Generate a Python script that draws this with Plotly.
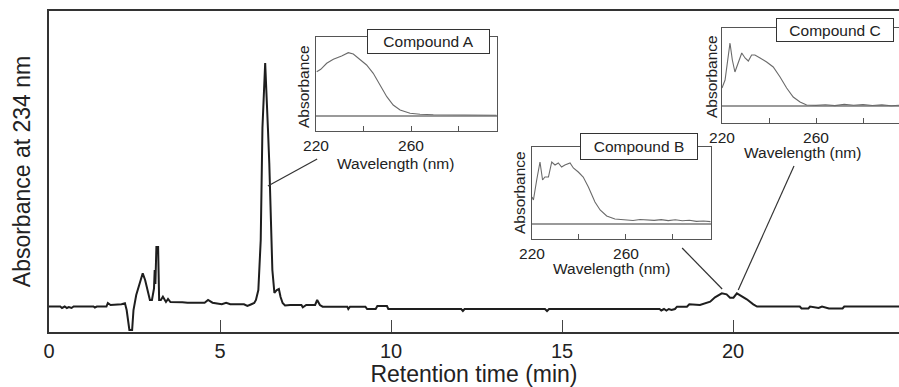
import plotly.graph_objects as go

# ---- main chromatogram (retention time in min, absorbance at 234 nm, arbitrary units)
rt_min = [0.00, 0.33, 0.38, 0.46, 0.52, 0.58, 0.66, 0.72, 1.30, 1.34, 1.40, 1.68, 1.72, 1.80,
          2.12, 2.22, 2.27, 2.32, 2.35, 2.43, 2.47, 2.55, 2.64, 2.74, 2.81, 2.89, 2.95, 3.01,
          3.07, 3.09, 3.11, 3.14, 3.19, 3.22, 3.27, 3.33, 3.42, 3.48, 3.55, 3.90, 4.05, 4.55,
          4.65, 4.78, 5.05, 5.18, 5.30, 5.70, 5.80, 5.90, 6.00, 6.05, 6.12, 6.19, 6.24, 6.32,
          6.37, 6.40, 6.44, 6.49, 6.53, 6.59, 6.66, 6.72, 6.77, 6.83, 6.90, 7.05, 7.38, 7.42,
          7.52, 7.78, 7.84, 7.92, 8.00, 8.72, 8.75, 8.80, 9.25, 9.30, 9.55, 9.60, 9.88, 9.92,
          12.05, 12.10, 12.15, 14.50, 14.56, 14.62, 17.85, 17.90, 17.98, 18.05, 18.12, 18.20,
          18.30, 18.36, 18.65, 18.72, 18.95, 19.03, 19.33, 19.47, 19.67, 19.81, 19.91, 20.01,
          20.11, 20.20, 20.40, 20.59, 20.70, 21.95, 22.00, 22.20, 22.25, 22.50, 22.60, 22.80,
          23.20, 23.25, 24.85]
abs_234 = [25.5, 25.5, 24.0, 25.5, 24.0, 25.0, 24.0, 25.5, 25.5, 24.5, 25.5, 25.5, 29.0, 27.0,
           27.7, 28.7, 22.0, 8.0, 2.0, 2.0, 22.0, 37.0, 47.0, 58.7, 52.0, 38.7, 32.0, 32.0,
           43.7, 62.0, 48.0, 85.0, 85.0, 32.0, 32.0, 35.3, 30.0, 33.0, 30.0, 29.7, 29.3, 29.3,
           32.0, 29.3, 27.7, 29.3, 27.7, 27.7, 26.0, 27.5, 29.0, 32.0, 42.0, 92.0, 204.0, 269.0,
           234.0, 204.0, 169.0, 110.0, 62.0, 39.0, 42.0, 43.0, 35.0, 29.0, 26.5, 27.0, 27.0, 24.7,
           27.0, 27.0, 32.0, 27.0, 25.3, 25.3, 23.0, 25.3, 25.3, 23.0, 23.0, 26.0, 26.0, 23.0,
           23.0, 21.0, 23.0, 23.0, 21.0, 23.0, 23.0, 21.5, 23.0, 21.5, 23.0, 22.0,
           23.0, 25.3, 25.3, 27.7, 27.7, 27.0, 30.3, 34.7, 38.7, 37.7, 34.3, 34.3,
           38.7, 37.0, 32.7, 27.7, 25.5, 25.5, 23.5, 23.5, 25.5, 24.0, 25.5, 23.5,
           23.5, 25.5, 25.5]
time_ticks = [0, 5, 10, 15, 20]

# ---- UV spectra of the three compounds (wavelength in nm, relative absorbance)
wl_a = [220.3, 222.0, 224.5, 227.3, 230.8, 233.6, 235.7, 238.5, 241.3, 244.1, 247.0, 249.8,
        252.5, 255.4, 259.6, 263.8, 269.4, 296.0]
abs_a = [44.3, 46.7, 52.7, 56.7, 60.0, 63.3, 62.0, 56.7, 51.0, 42.7, 31.0, 19.3,
         11.0, 6.0, 2.7, 1.7, 1.3, 0.8]

wl_b = [220.0, 220.6, 222.0, 223.4, 224.5, 225.5, 227.0, 228.4, 229.8, 231.2, 232.6, 234.0,
        236.2, 237.6, 239.7, 241.8, 244.0, 246.8, 249.0, 251.8, 255.3, 260.3, 263.0, 266.0,
        269.0, 272.0, 275.0, 278.0, 281.0, 284.0, 287.0, 290.0, 293.0, 296.0]
abs_b = [27.0, 24.0, 44.0, 62.0, 44.0, 47.0, 47.0, 62.0, 59.0, 61.0, 57.0, 59.0,
         61.0, 56.0, 52.0, 47.0, 37.0, 22.0, 14.0, 8.0, 5.0, 4.0, 3.5, 4.5,
         4.0, 3.6, 4.4, 3.4, 4.2, 3.2, 3.8, 2.6, 3.0, 2.4]

wl_c = [220.0, 221.3, 223.4, 224.4, 225.5, 227.0, 228.4, 229.8, 231.2, 232.6, 234.0, 236.2,
        239.0, 241.8, 244.7, 247.5, 250.3, 253.2, 256.0, 260.0, 264.0, 268.0, 272.0, 276.0,
        280.0, 284.0, 288.0, 292.0, 295.3]
abs_c = [18.0, 26.0, 63.0, 46.0, 34.0, 43.0, 53.0, 48.0, 45.0, 51.0, 51.0, 48.0,
         44.0, 39.0, 29.0, 18.0, 9.0, 4.0, 1.0, 0.6, 1.2, 0.4, 1.6, 0.8,
         1.4, 0.5, 1.1, 0.3, 0.8]

wl_ticks = [220, 240, 260, 280]
wl_ticktext = ["220", "", "260", ""]
compounds = ["Compound A", "Compound B", "Compound C"]

FONT = "Liberation Sans, Arial, Helvetica, sans-serif"
W, H = 899, 387
L, R, T, B = 49, 0, 11, 55


def px(xp):
    return (xp - L) / (W - L - R)


def py(yp):
    return (H - B - yp) / (H - B - T)


fig = go.Figure()
fig.add_trace(go.Scatter(x=rt_min, y=abs_234, mode="lines",
                         line=dict(color="#1e1e1e", width=2),
                         xaxis="x", yaxis="y", showlegend=False, hoverinfo="skip"))

spectra = [(wl_a, abs_a), (wl_b, abs_b), (wl_c, abs_c)]
for i, (wl, ab) in enumerate(spectra, start=2):
    fig.add_trace(go.Scatter(x=wl, y=ab, mode="lines",
                             line=dict(color="#6a6a6a", width=1.1),
                             xaxis=f"x{i}", yaxis=f"y{i}", showlegend=False,
                             hoverinfo="skip"))

# inset boxes in pixels: (left, right, top, bottom), x-range end, y-range
insets = [
    (316, 497, 37, 131, 296.2, [-15, 79]),
    (532, 711, 147, 239, 296.2, [-15, 77]),
    (722, 899, 28, 123, 295.3, [-17, 78]),
]

layout = dict(
    width=W, height=H,
    margin=dict(l=L, r=R, t=T, b=B),
    paper_bgcolor="white", plot_bgcolor="white",
    font=dict(family=FONT, color="#222222"),
    xaxis=dict(domain=[0, 1], range=[0, 24.85], tickvals=time_ticks,
               ticks="inside", ticklen=12, tickwidth=1, tickcolor="#444444",
               showline=True, linecolor="#333333", linewidth=1.5, mirror=True,
               showgrid=False, zeroline=False, tickfont=dict(size=20),
               title=dict(text="Retention time (min)", font=dict(size=23), standoff=4)),
    yaxis=dict(domain=[0, 1], range=[0, 321], showticklabels=False, ticks="",
               showline=True, linecolor="#333333", linewidth=1.5,
               showgrid=False, zeroline=False,
               title=dict(text="Absorbance at 234 nm", font=dict(size=23), standoff=10)),
)

shapes = []
annotations = []
for k, (l, r, t, b, xmax, yr) in enumerate(insets, start=2):
    layout[f"xaxis{k}"] = dict(
        domain=[px(l), px(r)], anchor=f"y{k}", range=[220, xmax],
        tickvals=wl_ticks, ticktext=wl_ticktext, ticks="inside", ticklen=5,
        tickwidth=1, tickcolor="#555555", showline=True, mirror=True,
        linecolor="#555555", linewidth=1, showgrid=False, zeroline=False,
        tickfont=dict(size=15.5))
    layout[f"yaxis{k}"] = dict(
        domain=[py(b), py(t)], anchor=f"x{k}", range=yr, showticklabels=False,
        ticks="", showline=True, mirror=True, linecolor="#555555", linewidth=1,
        showgrid=False, zeroline=True, zerolinecolor="#9a9a9a", zerolinewidth=1.5)
    shapes.append(dict(type="rect", xref=f"x{k} domain", yref=f"y{k} domain",
                       x0=0, x1=1, y0=0, y1=1, fillcolor="#f4f4f4",
                       line=dict(width=0), layer="below"))

# inset text: axis titles and compound label boxes (pixel centres)
wave_pos = [(395, 163), (611, 268), (802, 152)]
absb_pos = [(303, 87), (519, 193), (711, 77)]
box_pos = [(428.5, 41.5, 119, 21), (639, 146, 114, 23), (835, 30, 114, 20)]
for (wx, wy), (ax_, ay_), (bx, by, bw, bh), name in zip(wave_pos, absb_pos, box_pos, compounds):
    annotations.append(dict(text="Wavelength (nm)", xref="paper", yref="paper",
                            x=px(wx), y=py(wy), showarrow=False,
                            font=dict(size=15.5), xanchor="center", yanchor="middle"))
    annotations.append(dict(text="Absorbance", xref="paper", yref="paper",
                            x=px(ax_), y=py(ay_), showarrow=False, textangle=-90,
                            font=dict(size=15.5), xanchor="center", yanchor="middle"))
    annotations.append(dict(text=name, xref="paper", yref="paper",
                            x=px(bx), y=py(by), showarrow=False, width=bw, height=bh,
                            bgcolor="white", bordercolor="#333333", borderwidth=1,
                            borderpad=1, font=dict(size=15.5),
                            xanchor="center", yanchor="middle"))

# connector lines from the spectra to their peaks (main data coordinates)
connectors = [((7.84, 173), (6.40, 146)),
              ((18.51, 84), (19.68, 43)),
              ((21.78, 166), (20.15, 42))]
for (x0, y0), (x1, y1) in connectors:
    shapes.append(dict(type="line", xref="x", yref="y", x0=x0, y0=y0, x1=x1, y1=y1,
                       line=dict(color="#333333", width=1.2)))

layout["shapes"] = shapes
layout["annotations"] = annotations
fig.update_layout(**layout)
fig.write_html("out.html",
               config={"displayModeBar": False},
               post_script="document.body.style.margin='0';"
                           "document.body.style.overflow='hidden';")
